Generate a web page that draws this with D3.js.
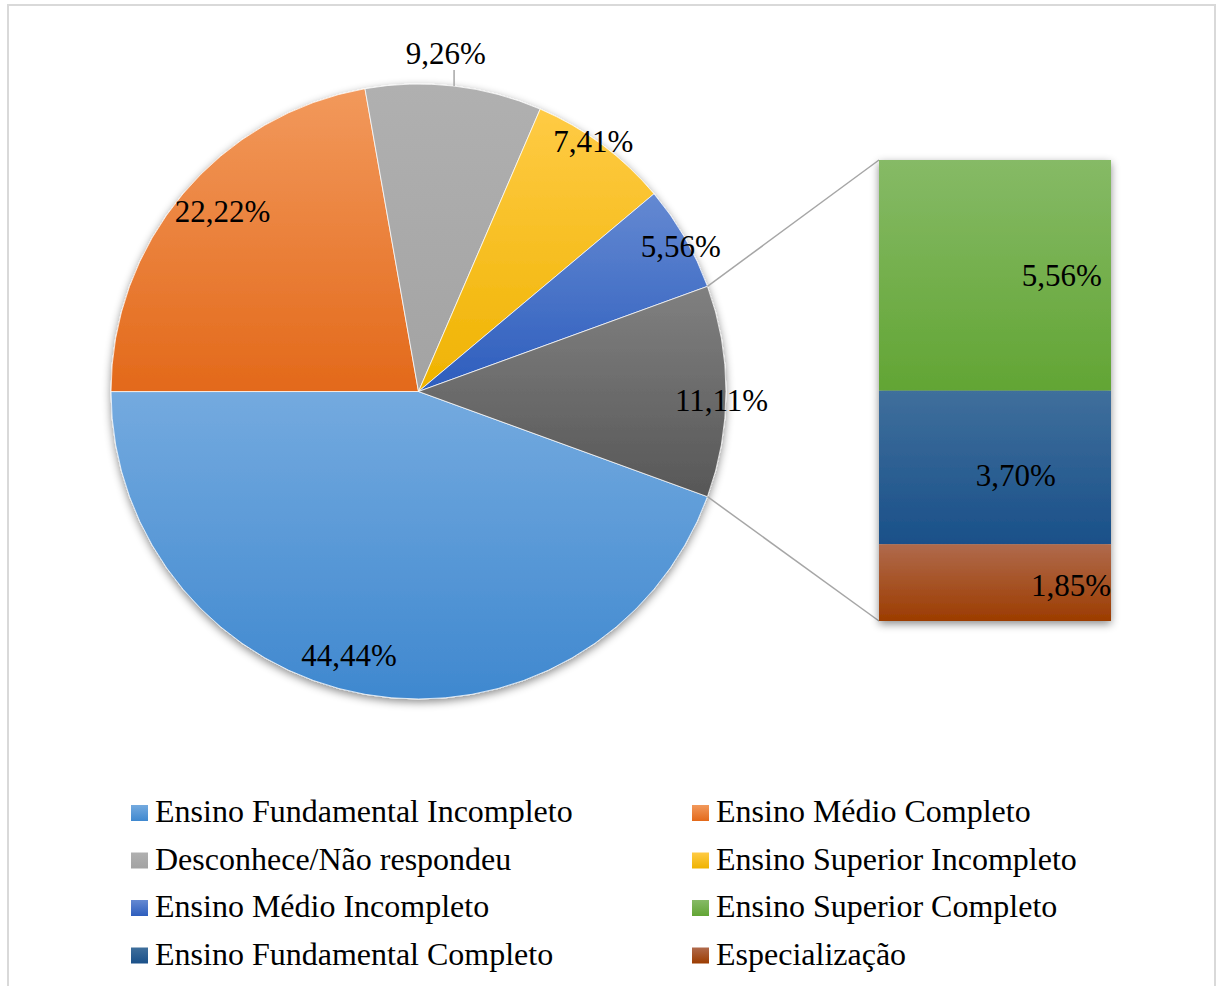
<!DOCTYPE html>
<html>
<head>
<meta charset="utf-8">
<script src="https://cdn.jsdelivr.net/npm/d3@7"></script>
<style>
  html, body { margin: 0; padding: 0; background: #fff; }
  svg text { font-family: "Liberation Serif", "Times New Roman", serif; fill: #000; }
</style>
</head>
<body>
<div id="chart"></div>
<script>
// pie slices, in Excel's drawing order (clockwise from the "Outros" split)
const pieCategories = ["Ensino Fundamental Incompleto", "Ensino Médio Completo", "Desconhece/Não respondeu",
  "Ensino Superior Incompleto", "Ensino Médio Incompleto", "Outros"];
const pieValues = [44.44, 22.22, 9.26, 7.41, 5.56, 11.11];

// the stacked bar that splits "Outros", top to bottom
const barCategories = ["Ensino Superior Completo", "Ensino Fundamental Completo", "Especialização"];
const barValues = [5.56, 3.70, 1.85];

// legend, in reading order (two columns)
const legendItems = ["Ensino Fundamental Incompleto", "Ensino Médio Completo", "Desconhece/Não respondeu",
  "Ensino Superior Incompleto", "Ensino Médio Incompleto", "Ensino Superior Completo",
  "Ensino Fundamental Completo", "Especialização"];

/** colours: [top of gradient, bottom of gradient] */
const colors = {
  "Ensino Fundamental Incompleto": ["#74aadf", "#3f88cf"],
  "Ensino Médio Completo": ["#f2995c", "#e3691a"],
  "Desconhece/Não respondeu": ["#b0b0b0", "#a3a3a3"],
  "Ensino Superior Incompleto": ["#ffcb45", "#efb300"],
  "Ensino Médio Incompleto": ["#6489d2", "#2d5dbd"],
  "Ensino Superior Completo": ["#86ba66", "#62a534"],
  "Ensino Fundamental Completo": ["#3f6f9c", "#1a5089"],
  "Especialização": ["#b06a4c", "#9c3c00"],
  "Outros": ["#808080", "#575757"]
};

const fmt = v => d3.format(".2f")(v).replace(".", ",") + "%";

const W = 1216, H = 986;
const cx = 418.5, cy = 391.5, R = 307.5;
const bar = { x0: 879, x1: 1111, y0: 160, y1: 621 };

// where Excel's "best fit" put the pie labels: [angle in degrees, fraction of radius]
const labelPolar = [[194.8, 0.886], [312.6, 0.866], [4.6, 1.104], [34.9, 0.994], [61, 0.975], [91.6, 0.986]];

const svg = d3.select("#chart").append("svg")
  .attr("width", W)
  .attr("height", H);

const defs = svg.append("defs");

Object.keys(colors).forEach((k, i) => {
  const g = defs.append("linearGradient")
    .attr("id", "grad" + i)
    .attr("x1", 0).attr("y1", 0).attr("x2", 0).attr("y2", 1);
  g.append("stop").attr("offset", "0%").attr("stop-color", colors[k][0]);
  g.append("stop").attr("offset", "100%").attr("stop-color", colors[k][1]);
});
const gradId = k => "url(#grad" + Object.keys(colors).indexOf(k) + ")";

const shadow = defs.append("filter")
  .attr("id", "shadow")
  .attr("x", "-10%").attr("y", "-10%").attr("width", "120%").attr("height", "125%");
shadow.append("feDropShadow")
  .attr("dx", 0).attr("dy", 3)
  .attr("stdDeviation", 4)
  .attr("flood-color", "#000")
  .attr("flood-opacity", 0.45);

/** chart frame */
svg.append("rect")
  .attr("x", 8).attr("y", 5)
  .attr("width", 1207).attr("height", 990)
  .attr("fill", "none")
  .attr("stroke", "#d9d9d9")
  .attr("stroke-width", 2);

/** pie */
const toRad = d => d * Math.PI / 180;
const pie = d3.pie()
  .sort(null)
  .startAngle(toRad(110))
  .endAngle(toRad(470));
const arcs = pie(pieValues);
const arc = d3.arc().innerRadius(0).outerRadius(R);

const pieG = svg.append("g")
  .attr("transform", "translate(" + cx + "," + cy + ")");

pieG.append("g")
  .attr("filter", "url(#shadow)")
  .selectAll("path")
  .data(arcs)
  .enter()
  .append("path")
  .attr("d", arc)
  .attr("fill", (d, i) => gradId(pieCategories[i]))
  .attr("stroke", "#fff")
  .attr("stroke-width", 0.75);

arcs.forEach((d, i) => {
  const [deg, frac] = labelPolar[i];
  const x = R * frac * Math.sin(toRad(deg)), y = -R * frac * Math.cos(toRad(deg));
  if (frac > 1) {
    // leader line for the outside label, from the slice's mid-point on the rim
    const mid = (d.startAngle + d.endAngle) / 2;
    const ex = R * Math.sin(mid), ey = -R * Math.cos(mid);
    pieG.append("line")
      .attr("x1", ex).attr("y1", ey)
      .attr("x2", ex).attr("y2", y + 17)
      .attr("stroke", "#a6a6a6")
      .attr("stroke-width", 1.5);
  }
  pieG.append("text")
    .attr("x", x).attr("y", y)
    .attr("dy", "0.35em")
    .attr("text-anchor", "middle")
    .style("font-size", "31px")
    .text(fmt(pieValues[i]));
});

/** connector lines from the "Outros" slice to the bar */
const outros = arcs[arcs.length - 1];
[[outros.startAngle, bar.y0], [outros.endAngle, bar.y1]].forEach(([a, by]) => {
  svg.append("line")
    .attr("x1", cx + R * Math.sin(a)).attr("y1", cy - R * Math.cos(a))
    .attr("x2", bar.x0).attr("y2", by)
    .attr("stroke", "#a6a6a6")
    .attr("stroke-width", 1.5);
});

/** stacked bar */
const yBar = d3.scaleLinear()
  .domain([0, d3.sum(barValues)])
  .range([bar.y0, bar.y1]);
const stackTop = barValues.map((v, i) => d3.sum(barValues.slice(0, i)));

svg.append("g")
  .attr("filter", "url(#shadow)")
  .selectAll("rect")
  .data(barValues)
  .enter()
  .append("rect")
  .attr("x", bar.x0)
  .attr("y", (d, i) => yBar(stackTop[i]))
  .attr("width", bar.x1 - bar.x0)
  .attr("height", d => yBar(d) - yBar(0))
  .attr("fill", (d, i) => gradId(barCategories[i]));

// Excel's label spots inside the bar: [x fraction, anchor, y fraction]
const barLabelPos = [[0.96, "end", 0.5], [0.59, "middle", 0.55], [1.0, "end", 0.53]];
barValues.forEach((v, i) => {
  const [fx, anchor, fy] = barLabelPos[i];
  const top = yBar(stackTop[i]), bot = yBar(stackTop[i] + v);
  svg.append("text")
    .attr("x", bar.x0 + fx * (bar.x1 - bar.x0))
    .attr("y", top + fy * (bot - top))
    .attr("dy", "0.35em")
    .attr("text-anchor", anchor)
    .style("font-size", "31px")
    .text(fmt(v));
});

/** legend */
const legend = svg.append("g").attr("id", "legend");
legendItems.forEach((name, i) => {
  const col = i % 2, row = Math.floor(i / 2);
  const gx = col === 0 ? 131 : 692;
  const gy = 822 + row * 47.5;
  legend.append("rect")
    .attr("x", gx).attr("y", gy - 17)
    .attr("width", 17).attr("height", 16)
    .attr("fill", gradId(name));
  legend.append("text")
    .attr("x", gx + 24).attr("y", gy)
    .style("font-size", "32px")
    .text(name);
});
</script>
</body>
</html>
